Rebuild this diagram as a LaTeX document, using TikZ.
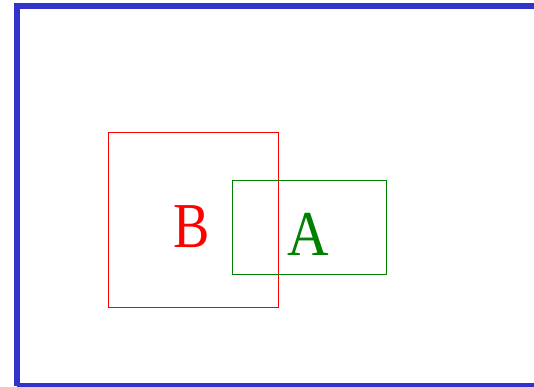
\documentclass[tikz,border=0pt]{standalone}
\usepackage{fontspec}
\setmainfont{Liberation Serif}
\definecolor{frameblue}{RGB}{51,51,204}
\definecolor{darkgreen}{RGB}{0,128,0}
\begin{document}
\begin{tikzpicture}[x=1pt,y=-1pt,
  lbl/.style={inner sep=0pt,font=\fontsize{64}{64}\selectfont}]
\useasboundingbox (0,0) rectangle (534,387);
\draw[frameblue,line width=6pt] (16.5,386) -- (16.5,5.7) -- (540,5.7);
\draw[frameblue,line width=6pt] (16.5,386) -- (540,386);
\node[draw=red,line width=1pt,inner sep=0pt,minimum width=170pt,minimum height=174.5pt] (boxB) at (193.3,219.9) {};
\node[draw=darkgreen,line width=1pt,inner sep=0pt,minimum width=154pt,minimum height=94.5pt] (boxA) at (309.3,227.7) {};
\node[lbl,text=red] (B) at (192,227) {\scalebox{0.85}[1]{B}};
\node[lbl,text=darkgreen] (A) at (308.5,234.5) {\scalebox{0.9}[1]{A}};
\end{tikzpicture}
\end{document}
